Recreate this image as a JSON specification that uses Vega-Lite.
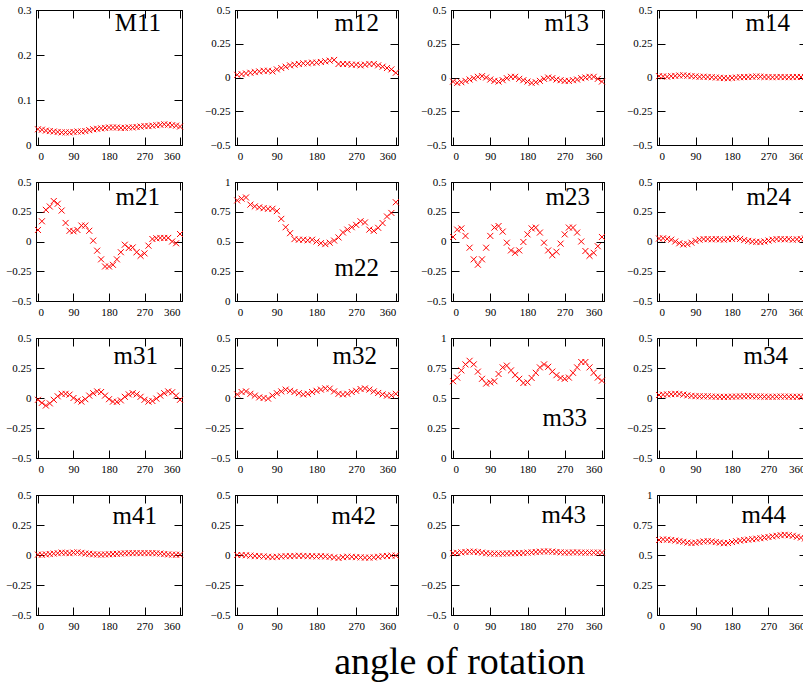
{
  "$schema": "https://vega.github.io/schema/vega-lite/v6.json",
  "background": "white",
  "padding": {"left": 5, "top": 3, "right": 0, "bottom": 0},
  "datasets": {
    "M11": [{"a":0,"v":0.035},{"a":10,"v":0.034},{"a":20,"v":0.032},{"a":30,"v":0.031},{"a":40,"v":0.030},{"a":50,"v":0.029},{"a":60,"v":0.028},{"a":70,"v":0.028},{"a":80,"v":0.028},{"a":90,"v":0.029},{"a":100,"v":0.030},{"a":110,"v":0.030},{"a":120,"v":0.031},{"a":130,"v":0.033},{"a":140,"v":0.035},{"a":150,"v":0.036},{"a":160,"v":0.037},{"a":170,"v":0.038},{"a":180,"v":0.039},{"a":190,"v":0.039},{"a":200,"v":0.039},{"a":210,"v":0.038},{"a":220,"v":0.038},{"a":230,"v":0.039},{"a":240,"v":0.039},{"a":250,"v":0.040},{"a":260,"v":0.041},{"a":270,"v":0.042},{"a":280,"v":0.042},{"a":290,"v":0.043},{"a":300,"v":0.044},{"a":310,"v":0.045},{"a":320,"v":0.046},{"a":330,"v":0.045},{"a":340,"v":0.044},{"a":350,"v":0.043},{"a":360,"v":0.041}],
    "m12": [{"a":0,"v":0.02},{"a":10,"v":0.025},{"a":20,"v":0.03},{"a":30,"v":0.035},{"a":40,"v":0.04},{"a":50,"v":0.045},{"a":60,"v":0.05},{"a":70,"v":0.05},{"a":80,"v":0.045},{"a":90,"v":0.06},{"a":100,"v":0.07},{"a":110,"v":0.08},{"a":120,"v":0.09},{"a":130,"v":0.095},{"a":140,"v":0.1},{"a":150,"v":0.105},{"a":160,"v":0.105},{"a":170,"v":0.11},{"a":180,"v":0.11},{"a":190,"v":0.115},{"a":200,"v":0.12},{"a":210,"v":0.125},{"a":220,"v":0.13},{"a":230,"v":0.1},{"a":240,"v":0.1},{"a":250,"v":0.1},{"a":260,"v":0.095},{"a":270,"v":0.095},{"a":280,"v":0.09},{"a":290,"v":0.095},{"a":300,"v":0.1},{"a":310,"v":0.1},{"a":320,"v":0.09},{"a":330,"v":0.08},{"a":340,"v":0.07},{"a":350,"v":0.06},{"a":360,"v":0.035}],
    "m13": [{"a":0,"v":-0.03},{"a":10,"v":-0.04},{"a":20,"v":-0.035},{"a":30,"v":-0.025},{"a":40,"v":-0.015},{"a":50,"v":-0.005},{"a":60,"v":0.005},{"a":70,"v":0.01},{"a":80,"v":0.0},{"a":90,"v":-0.015},{"a":100,"v":-0.025},{"a":110,"v":-0.03},{"a":120,"v":-0.02},{"a":130,"v":-0.005},{"a":140,"v":0.005},{"a":150,"v":0.005},{"a":160,"v":-0.01},{"a":170,"v":-0.02},{"a":180,"v":-0.03},{"a":190,"v":-0.04},{"a":200,"v":-0.035},{"a":210,"v":-0.025},{"a":220,"v":-0.01},{"a":230,"v":0.0},{"a":240,"v":-0.005},{"a":250,"v":-0.015},{"a":260,"v":-0.02},{"a":270,"v":-0.025},{"a":280,"v":-0.025},{"a":290,"v":-0.02},{"a":300,"v":-0.015},{"a":310,"v":-0.005},{"a":320,"v":0.0},{"a":330,"v":0.005},{"a":340,"v":0.005},{"a":350,"v":-0.01},{"a":360,"v":-0.03}],
    "m14": [{"a":0,"v":0.01},{"a":10,"v":0.008},{"a":20,"v":0.006},{"a":30,"v":0.01},{"a":40,"v":0.012},{"a":50,"v":0.015},{"a":60,"v":0.016},{"a":70,"v":0.013},{"a":80,"v":0.01},{"a":90,"v":0.008},{"a":100,"v":0.005},{"a":110,"v":0.006},{"a":120,"v":0.004},{"a":130,"v":0.002},{"a":140,"v":0.0},{"a":150,"v":-0.002},{"a":160,"v":-0.004},{"a":170,"v":-0.006},{"a":180,"v":-0.003},{"a":190,"v":0.0},{"a":200,"v":0.002},{"a":210,"v":0.003},{"a":220,"v":0.004},{"a":230,"v":0.006},{"a":240,"v":0.008},{"a":250,"v":0.006},{"a":260,"v":0.004},{"a":270,"v":0.003},{"a":280,"v":0.002},{"a":290,"v":0.003},{"a":300,"v":0.004},{"a":310,"v":0.003},{"a":320,"v":0.002},{"a":330,"v":0.003},{"a":340,"v":0.004},{"a":350,"v":0.004},{"a":360,"v":0.003}],
    "m21": [{"a":0,"v":0.097},{"a":10,"v":0.17},{"a":20,"v":0.266},{"a":30,"v":0.294},{"a":40,"v":0.34},{"a":50,"v":0.317},{"a":60,"v":0.26},{"a":70,"v":0.156},{"a":80,"v":0.09},{"a":90,"v":0.086},{"a":100,"v":0.097},{"a":110,"v":0.134},{"a":120,"v":0.134},{"a":130,"v":0.09},{"a":140,"v":0.007},{"a":150,"v":-0.077},{"a":160,"v":-0.15},{"a":170,"v":-0.21},{"a":180,"v":-0.21},{"a":190,"v":-0.196},{"a":200,"v":-0.15},{"a":210,"v":-0.09},{"a":220,"v":-0.027},{"a":230,"v":-0.055},{"a":240,"v":-0.05},{"a":250,"v":-0.09},{"a":260,"v":-0.12},{"a":270,"v":-0.1},{"a":280,"v":-0.035},{"a":290,"v":0.021},{"a":300,"v":0.027},{"a":310,"v":0.03},{"a":320,"v":0.03},{"a":330,"v":0.03},{"a":340,"v":0.0},{"a":350,"v":-0.015},{"a":360,"v":0.063}],
    "m22": [{"a":0,"v":0.845},{"a":10,"v":0.86},{"a":20,"v":0.87},{"a":30,"v":0.81},{"a":40,"v":0.795},{"a":50,"v":0.787},{"a":60,"v":0.78},{"a":70,"v":0.775},{"a":80,"v":0.775},{"a":90,"v":0.755},{"a":100,"v":0.69},{"a":110,"v":0.62},{"a":120,"v":0.57},{"a":130,"v":0.52},{"a":140,"v":0.515},{"a":150,"v":0.515},{"a":160,"v":0.51},{"a":170,"v":0.515},{"a":180,"v":0.5},{"a":190,"v":0.486},{"a":200,"v":0.478},{"a":210,"v":0.49},{"a":220,"v":0.508},{"a":230,"v":0.534},{"a":240,"v":0.576},{"a":250,"v":0.6},{"a":260,"v":0.62},{"a":270,"v":0.64},{"a":280,"v":0.67},{"a":290,"v":0.66},{"a":300,"v":0.6},{"a":310,"v":0.59},{"a":320,"v":0.615},{"a":330,"v":0.655},{"a":340,"v":0.71},{"a":350,"v":0.74},{"a":360,"v":0.83}],
    "m23": [{"a":0,"v":0.038},{"a":10,"v":0.1},{"a":20,"v":0.11},{"a":30,"v":0.047},{"a":40,"v":-0.052},{"a":50,"v":-0.15},{"a":60,"v":-0.195},{"a":70,"v":-0.15},{"a":80,"v":-0.052},{"a":90,"v":0.047},{"a":100,"v":0.117},{"a":110,"v":0.13},{"a":120,"v":0.083},{"a":130,"v":-0.01},{"a":140,"v":-0.075},{"a":150,"v":-0.095},{"a":160,"v":-0.075},{"a":170,"v":-0.004},{"a":180,"v":0.06},{"a":190,"v":0.11},{"a":200,"v":0.117},{"a":210,"v":0.075},{"a":220,"v":-0.01},{"a":230,"v":-0.075},{"a":240,"v":-0.115},{"a":250,"v":-0.086},{"a":260,"v":-0.018},{"a":270,"v":0.06},{"a":280,"v":0.117},{"a":290,"v":0.117},{"a":300,"v":0.075},{"a":310,"v":0.0},{"a":320,"v":-0.08},{"a":330,"v":-0.12},{"a":340,"v":-0.095},{"a":350,"v":-0.04},{"a":360,"v":0.038}],
    "m24": [{"a":0,"v":0.025},{"a":10,"v":0.027},{"a":20,"v":0.022},{"a":30,"v":0.015},{"a":40,"v":0.0},{"a":50,"v":-0.015},{"a":60,"v":-0.025},{"a":70,"v":-0.022},{"a":80,"v":-0.01},{"a":90,"v":0.005},{"a":100,"v":0.015},{"a":110,"v":0.02},{"a":120,"v":0.02},{"a":130,"v":0.018},{"a":140,"v":0.02},{"a":150,"v":0.018},{"a":160,"v":0.015},{"a":170,"v":0.02},{"a":180,"v":0.022},{"a":190,"v":0.028},{"a":200,"v":0.022},{"a":210,"v":0.012},{"a":220,"v":0.005},{"a":230,"v":0.0},{"a":240,"v":-0.003},{"a":250,"v":-0.005},{"a":260,"v":0.0},{"a":270,"v":0.008},{"a":280,"v":0.015},{"a":290,"v":0.02},{"a":300,"v":0.02},{"a":310,"v":0.018},{"a":320,"v":0.02},{"a":330,"v":0.015},{"a":340,"v":0.018},{"a":350,"v":0.02},{"a":360,"v":0.025}],
    "m31": [{"a":0,"v":-0.015},{"a":10,"v":-0.04},{"a":20,"v":-0.063},{"a":30,"v":-0.045},{"a":40,"v":-0.015},{"a":50,"v":0.014},{"a":60,"v":0.035},{"a":70,"v":0.035},{"a":80,"v":0.028},{"a":90,"v":0.0},{"a":100,"v":-0.02},{"a":110,"v":-0.03},{"a":120,"v":-0.01},{"a":130,"v":0.02},{"a":140,"v":0.04},{"a":150,"v":0.055},{"a":160,"v":0.05},{"a":170,"v":0.02},{"a":180,"v":-0.01},{"a":190,"v":-0.03},{"a":200,"v":-0.032},{"a":210,"v":-0.02},{"a":220,"v":0.01},{"a":230,"v":0.03},{"a":240,"v":0.04},{"a":250,"v":0.03},{"a":260,"v":0.01},{"a":270,"v":-0.015},{"a":280,"v":-0.03},{"a":290,"v":-0.025},{"a":300,"v":-0.005},{"a":310,"v":0.02},{"a":320,"v":0.04},{"a":330,"v":0.055},{"a":340,"v":0.048},{"a":350,"v":0.02},{"a":360,"v":-0.015}],
    "m32": [{"a":0,"v":0.03},{"a":10,"v":0.05},{"a":20,"v":0.055},{"a":30,"v":0.035},{"a":40,"v":0.02},{"a":50,"v":0.005},{"a":60,"v":0.0},{"a":70,"v":-0.005},{"a":80,"v":0.02},{"a":90,"v":0.04},{"a":100,"v":0.055},{"a":110,"v":0.07},{"a":120,"v":0.06},{"a":130,"v":0.05},{"a":140,"v":0.04},{"a":150,"v":0.03},{"a":160,"v":0.035},{"a":170,"v":0.05},{"a":180,"v":0.06},{"a":190,"v":0.07},{"a":200,"v":0.08},{"a":210,"v":0.078},{"a":220,"v":0.055},{"a":230,"v":0.035},{"a":240,"v":0.03},{"a":250,"v":0.035},{"a":260,"v":0.05},{"a":270,"v":0.06},{"a":280,"v":0.075},{"a":290,"v":0.08},{"a":300,"v":0.07},{"a":310,"v":0.055},{"a":320,"v":0.042},{"a":330,"v":0.03},{"a":340,"v":0.02},{"a":350,"v":0.022},{"a":360,"v":0.035}],
    "m33": [{"a":0,"v":0.64},{"a":10,"v":0.67},{"a":20,"v":0.73},{"a":30,"v":0.78},{"a":40,"v":0.81},{"a":50,"v":0.78},{"a":60,"v":0.72},{"a":70,"v":0.66},{"a":80,"v":0.62},{"a":90,"v":0.63},{"a":100,"v":0.64},{"a":110,"v":0.7},{"a":120,"v":0.755},{"a":130,"v":0.77},{"a":140,"v":0.73},{"a":150,"v":0.69},{"a":160,"v":0.66},{"a":170,"v":0.625},{"a":180,"v":0.63},{"a":190,"v":0.667},{"a":200,"v":0.71},{"a":210,"v":0.755},{"a":220,"v":0.78},{"a":230,"v":0.76},{"a":240,"v":0.72},{"a":250,"v":0.69},{"a":260,"v":0.667},{"a":270,"v":0.66},{"a":280,"v":0.67},{"a":290,"v":0.71},{"a":300,"v":0.755},{"a":310,"v":0.8},{"a":320,"v":0.8},{"a":330,"v":0.755},{"a":340,"v":0.71},{"a":350,"v":0.67},{"a":360,"v":0.645}],
    "m34": [{"a":0,"v":0.025},{"a":10,"v":0.028},{"a":20,"v":0.03},{"a":30,"v":0.032},{"a":40,"v":0.035},{"a":50,"v":0.033},{"a":60,"v":0.028},{"a":70,"v":0.022},{"a":80,"v":0.018},{"a":90,"v":0.015},{"a":100,"v":0.014},{"a":110,"v":0.013},{"a":120,"v":0.014},{"a":130,"v":0.012},{"a":140,"v":0.011},{"a":150,"v":0.01},{"a":160,"v":0.009},{"a":170,"v":0.01},{"a":180,"v":0.011},{"a":190,"v":0.012},{"a":200,"v":0.013},{"a":210,"v":0.014},{"a":220,"v":0.015},{"a":230,"v":0.014},{"a":240,"v":0.013},{"a":250,"v":0.012},{"a":260,"v":0.011},{"a":270,"v":0.01},{"a":280,"v":0.01},{"a":290,"v":0.011},{"a":300,"v":0.012},{"a":310,"v":0.012},{"a":320,"v":0.011},{"a":330,"v":0.01},{"a":340,"v":0.01},{"a":350,"v":0.011},{"a":360,"v":0.012}],
    "m41": [{"a":0,"v":0.003},{"a":10,"v":0.002},{"a":20,"v":0.005},{"a":30,"v":0.008},{"a":40,"v":0.012},{"a":50,"v":0.015},{"a":60,"v":0.02},{"a":70,"v":0.018},{"a":80,"v":0.015},{"a":90,"v":0.02},{"a":100,"v":0.022},{"a":110,"v":0.018},{"a":120,"v":0.012},{"a":130,"v":0.01},{"a":140,"v":0.006},{"a":150,"v":0.004},{"a":160,"v":0.003},{"a":170,"v":0.005},{"a":180,"v":0.006},{"a":190,"v":0.008},{"a":200,"v":0.01},{"a":210,"v":0.012},{"a":220,"v":0.014},{"a":230,"v":0.015},{"a":240,"v":0.015},{"a":250,"v":0.016},{"a":260,"v":0.015},{"a":270,"v":0.016},{"a":280,"v":0.015},{"a":290,"v":0.016},{"a":300,"v":0.014},{"a":310,"v":0.012},{"a":320,"v":0.008},{"a":330,"v":0.005},{"a":340,"v":0.003},{"a":350,"v":0.002},{"a":360,"v":0.003}],
    "m42": [{"a":0,"v":0.0},{"a":10,"v":0.0},{"a":20,"v":-0.002},{"a":30,"v":-0.005},{"a":40,"v":-0.008},{"a":50,"v":-0.01},{"a":60,"v":-0.012},{"a":70,"v":-0.015},{"a":80,"v":-0.018},{"a":90,"v":-0.015},{"a":100,"v":-0.012},{"a":110,"v":-0.01},{"a":120,"v":-0.01},{"a":130,"v":-0.008},{"a":140,"v":-0.006},{"a":150,"v":-0.008},{"a":160,"v":-0.01},{"a":170,"v":-0.01},{"a":180,"v":-0.012},{"a":190,"v":-0.01},{"a":200,"v":-0.012},{"a":210,"v":-0.015},{"a":220,"v":-0.02},{"a":230,"v":-0.025},{"a":240,"v":-0.018},{"a":250,"v":-0.014},{"a":260,"v":-0.015},{"a":270,"v":-0.018},{"a":280,"v":-0.02},{"a":290,"v":-0.022},{"a":300,"v":-0.022},{"a":310,"v":-0.02},{"a":320,"v":-0.015},{"a":330,"v":-0.01},{"a":340,"v":-0.008},{"a":350,"v":-0.005},{"a":360,"v":-0.005}],
    "m43": [{"a":0,"v":0.015},{"a":10,"v":0.018},{"a":20,"v":0.022},{"a":30,"v":0.025},{"a":40,"v":0.028},{"a":50,"v":0.028},{"a":60,"v":0.025},{"a":70,"v":0.02},{"a":80,"v":0.015},{"a":90,"v":0.012},{"a":100,"v":0.012},{"a":110,"v":0.011},{"a":120,"v":0.012},{"a":130,"v":0.013},{"a":140,"v":0.014},{"a":150,"v":0.015},{"a":160,"v":0.015},{"a":170,"v":0.017},{"a":180,"v":0.02},{"a":190,"v":0.022},{"a":200,"v":0.025},{"a":210,"v":0.028},{"a":220,"v":0.03},{"a":230,"v":0.03},{"a":240,"v":0.028},{"a":250,"v":0.025},{"a":260,"v":0.022},{"a":270,"v":0.02},{"a":280,"v":0.02},{"a":290,"v":0.022},{"a":300,"v":0.022},{"a":310,"v":0.02},{"a":320,"v":0.02},{"a":330,"v":0.02},{"a":340,"v":0.02},{"a":350,"v":0.02},{"a":360,"v":0.02}],
    "m44": [{"a":0,"v":0.625},{"a":10,"v":0.63},{"a":20,"v":0.628},{"a":30,"v":0.625},{"a":40,"v":0.62},{"a":50,"v":0.615},{"a":60,"v":0.61},{"a":70,"v":0.603},{"a":80,"v":0.6},{"a":90,"v":0.602},{"a":100,"v":0.608},{"a":110,"v":0.613},{"a":120,"v":0.615},{"a":130,"v":0.613},{"a":140,"v":0.608},{"a":150,"v":0.603},{"a":160,"v":0.598},{"a":170,"v":0.6},{"a":180,"v":0.608},{"a":190,"v":0.615},{"a":200,"v":0.62},{"a":210,"v":0.625},{"a":220,"v":0.628},{"a":230,"v":0.632},{"a":240,"v":0.636},{"a":250,"v":0.64},{"a":260,"v":0.645},{"a":270,"v":0.65},{"a":280,"v":0.655},{"a":290,"v":0.66},{"a":300,"v":0.665},{"a":310,"v":0.668},{"a":320,"v":0.665},{"a":330,"v":0.66},{"a":340,"v":0.652},{"a":350,"v":0.645},{"a":360,"v":0.638}]
  },
  "title": {"text": "angle of rotation", "orient": "bottom", "anchor": "middle", "frame": "bounds", "fontSize": 38, "baseline": "top", "offset": 12, "dx": 52},
  "columns": 4,
  "align": "each",
  "bounds": "flush",
  "spacing": {"row": 37, "column": 53},
  "concat": [
    {"width": 146, "height": 135, "title": {"text": "M11", "offset": -32, "dx": -21}, "data": {"name": "M11"},
     "layer": [
      {"mark": {"type": "point", "shape": "M-1,-1L1,1M-1,1L1,-1", "color": "#ff0000", "filled": false, "size": 36, "strokeWidth": 1, "opacity": 1},
       "encoding": {"x": {"field": "a", "type": "quantitative", "title": null, "scale": {"domain": [-5, 365], "nice": false, "zero": false}, "axis": {"values": [0, 90, 180, 270, 360]}},
                    "y": {"field": "v", "type": "quantitative", "title": null, "scale": {"domain": [0, 0.3], "nice": false, "zero": false}, "axis": {"values": [0, 0.1, 0.2, 0.3]}}}},
      {"mark": {"type": "point", "opacity": 0},
       "encoding": {"x": {"field": "a", "type": "quantitative", "title": null, "scale": {"domain": [-5, 365], "nice": false, "zero": false}, "axis": {"orient": "top", "labels": false, "values": [0, 90, 180, 270, 360]}},
                    "y": {"field": "v", "type": "quantitative", "title": null, "scale": {"domain": [0, 0.3], "nice": false, "zero": false}, "axis": {"orient": "right", "labels": false, "values": [0, 0.1, 0.2, 0.3]}}}}
     ],
     "resolve": {"axis": {"x": "independent", "y": "independent"}}},
    {"width": 163, "height": 135, "title": {"text": "m12", "offset": -32, "dx": -19}, "data": {"name": "m12"},
     "layer": [
      {"mark": {"type": "point", "shape": "M-1,-1L1,1M-1,1L1,-1", "color": "#ff0000", "filled": false, "size": 36, "strokeWidth": 1, "opacity": 1},
       "encoding": {"x": {"field": "a", "type": "quantitative", "title": null, "scale": {"domain": [-5, 365], "nice": false, "zero": false}, "axis": {"values": [0, 90, 180, 270, 360]}},
                    "y": {"field": "v", "type": "quantitative", "title": null, "scale": {"domain": [-0.5, 0.5], "nice": false, "zero": false}, "axis": {"values": [-0.5, -0.25, 0, 0.25, 0.5]}}}},
      {"mark": {"type": "point", "opacity": 0},
       "encoding": {"x": {"field": "a", "type": "quantitative", "title": null, "scale": {"domain": [-5, 365], "nice": false, "zero": false}, "axis": {"orient": "top", "labels": false, "values": [0, 90, 180, 270, 360]}},
                    "y": {"field": "v", "type": "quantitative", "title": null, "scale": {"domain": [-0.5, 0.5], "nice": false, "zero": false}, "axis": {"orient": "right", "labels": false, "values": [-0.5, -0.25, 0, 0.25, 0.5]}}}}
     ],
     "resolve": {"axis": {"x": "independent", "y": "independent"}}},
    {"width": 153, "height": 135, "title": {"text": "m13", "offset": -32, "dx": -15}, "data": {"name": "m13"},
     "layer": [
      {"mark": {"type": "point", "shape": "M-1,-1L1,1M-1,1L1,-1", "color": "#ff0000", "filled": false, "size": 36, "strokeWidth": 1, "opacity": 1},
       "encoding": {"x": {"field": "a", "type": "quantitative", "title": null, "scale": {"domain": [-5, 365], "nice": false, "zero": false}, "axis": {"values": [0, 90, 180, 270, 360]}},
                    "y": {"field": "v", "type": "quantitative", "title": null, "scale": {"domain": [-0.5, 0.5], "nice": false, "zero": false}, "axis": {"values": [-0.5, -0.25, 0, 0.25, 0.5]}}}},
      {"mark": {"type": "point", "opacity": 0},
       "encoding": {"x": {"field": "a", "type": "quantitative", "title": null, "scale": {"domain": [-5, 365], "nice": false, "zero": false}, "axis": {"orient": "top", "labels": false, "values": [0, 90, 180, 270, 360]}},
                    "y": {"field": "v", "type": "quantitative", "title": null, "scale": {"domain": [-0.5, 0.5], "nice": false, "zero": false}, "axis": {"orient": "right", "labels": false, "values": [-0.5, -0.25, 0, 0.25, 0.5]}}}}
     ],
     "resolve": {"axis": {"x": "independent", "y": "independent"}}},
    {"width": 150, "height": 135, "title": {"text": "m14", "offset": -32, "dx": -17}, "data": {"name": "m14"},
     "layer": [
      {"mark": {"type": "point", "shape": "M-1,-1L1,1M-1,1L1,-1", "color": "#ff0000", "filled": false, "size": 36, "strokeWidth": 1, "opacity": 1},
       "encoding": {"x": {"field": "a", "type": "quantitative", "title": null, "scale": {"domain": [-5, 365], "nice": false, "zero": false}, "axis": {"values": [0, 90, 180, 270, 360]}},
                    "y": {"field": "v", "type": "quantitative", "title": null, "scale": {"domain": [-0.5, 0.5], "nice": false, "zero": false}, "axis": {"values": [-0.5, -0.25, 0, 0.25, 0.5]}}}},
      {"mark": {"type": "point", "opacity": 0},
       "encoding": {"x": {"field": "a", "type": "quantitative", "title": null, "scale": {"domain": [-5, 365], "nice": false, "zero": false}, "axis": {"orient": "top", "labels": false, "values": [0, 90, 180, 270, 360]}},
                    "y": {"field": "v", "type": "quantitative", "title": null, "scale": {"domain": [-0.5, 0.5], "nice": false, "zero": false}, "axis": {"orient": "right", "labels": false, "values": [-0.5, -0.25, 0, 0.25, 0.5]}}}}
     ],
     "resolve": {"axis": {"x": "independent", "y": "independent"}}},
    {"width": 146, "height": 119, "title": {"text": "m21", "offset": -34, "dx": -22}, "data": {"name": "m21"},
     "layer": [
      {"mark": {"type": "point", "shape": "M-1,-1L1,1M-1,1L1,-1", "color": "#ff0000", "filled": false, "size": 36, "strokeWidth": 1, "opacity": 1},
       "encoding": {"x": {"field": "a", "type": "quantitative", "title": null, "scale": {"domain": [-5, 365], "nice": false, "zero": false}, "axis": {"values": [0, 90, 180, 270, 360]}},
                    "y": {"field": "v", "type": "quantitative", "title": null, "scale": {"domain": [-0.5, 0.5], "nice": false, "zero": false}, "axis": {"values": [-0.5, -0.25, 0, 0.25, 0.5]}}}},
      {"mark": {"type": "point", "opacity": 0},
       "encoding": {"x": {"field": "a", "type": "quantitative", "title": null, "scale": {"domain": [-5, 365], "nice": false, "zero": false}, "axis": {"orient": "top", "labels": false, "values": [0, 90, 180, 270, 360]}},
                    "y": {"field": "v", "type": "quantitative", "title": null, "scale": {"domain": [-0.5, 0.5], "nice": false, "zero": false}, "axis": {"orient": "right", "labels": false, "values": [-0.5, -0.25, 0, 0.25, 0.5]}}}}
     ],
     "resolve": {"axis": {"x": "independent", "y": "independent"}}},
    {"width": 163, "height": 119, "title": {"text": "m22", "offset": -105, "dx": -19}, "data": {"name": "m22"},
     "layer": [
      {"mark": {"type": "point", "shape": "M-1,-1L1,1M-1,1L1,-1", "color": "#ff0000", "filled": false, "size": 36, "strokeWidth": 1, "opacity": 1},
       "encoding": {"x": {"field": "a", "type": "quantitative", "title": null, "scale": {"domain": [-5, 365], "nice": false, "zero": false}, "axis": {"values": [0, 90, 180, 270, 360]}},
                    "y": {"field": "v", "type": "quantitative", "title": null, "scale": {"domain": [0, 1], "nice": false, "zero": false}, "axis": {"values": [0, 0.25, 0.5, 0.75, 1]}}}},
      {"mark": {"type": "point", "opacity": 0},
       "encoding": {"x": {"field": "a", "type": "quantitative", "title": null, "scale": {"domain": [-5, 365], "nice": false, "zero": false}, "axis": {"orient": "top", "labels": false, "values": [0, 90, 180, 270, 360]}},
                    "y": {"field": "v", "type": "quantitative", "title": null, "scale": {"domain": [0, 1], "nice": false, "zero": false}, "axis": {"orient": "right", "labels": false, "values": [0, 0.25, 0.5, 0.75, 1]}}}}
     ],
     "resolve": {"axis": {"x": "independent", "y": "independent"}}},
    {"width": 153, "height": 119, "title": {"text": "m23", "offset": -34, "dx": -14}, "data": {"name": "m23"},
     "layer": [
      {"mark": {"type": "point", "shape": "M-1,-1L1,1M-1,1L1,-1", "color": "#ff0000", "filled": false, "size": 36, "strokeWidth": 1, "opacity": 1},
       "encoding": {"x": {"field": "a", "type": "quantitative", "title": null, "scale": {"domain": [-5, 365], "nice": false, "zero": false}, "axis": {"values": [0, 90, 180, 270, 360]}},
                    "y": {"field": "v", "type": "quantitative", "title": null, "scale": {"domain": [-0.5, 0.5], "nice": false, "zero": false}, "axis": {"values": [-0.5, -0.25, 0, 0.25, 0.5]}}}},
      {"mark": {"type": "point", "opacity": 0},
       "encoding": {"x": {"field": "a", "type": "quantitative", "title": null, "scale": {"domain": [-5, 365], "nice": false, "zero": false}, "axis": {"orient": "top", "labels": false, "values": [0, 90, 180, 270, 360]}},
                    "y": {"field": "v", "type": "quantitative", "title": null, "scale": {"domain": [-0.5, 0.5], "nice": false, "zero": false}, "axis": {"orient": "right", "labels": false, "values": [-0.5, -0.25, 0, 0.25, 0.5]}}}}
     ],
     "resolve": {"axis": {"x": "independent", "y": "independent"}}},
    {"width": 150, "height": 119, "title": {"text": "m24", "offset": -34, "dx": -16}, "data": {"name": "m24"},
     "layer": [
      {"mark": {"type": "point", "shape": "M-1,-1L1,1M-1,1L1,-1", "color": "#ff0000", "filled": false, "size": 36, "strokeWidth": 1, "opacity": 1},
       "encoding": {"x": {"field": "a", "type": "quantitative", "title": null, "scale": {"domain": [-5, 365], "nice": false, "zero": false}, "axis": {"values": [0, 90, 180, 270, 360]}},
                    "y": {"field": "v", "type": "quantitative", "title": null, "scale": {"domain": [-0.5, 0.5], "nice": false, "zero": false}, "axis": {"values": [-0.5, -0.25, 0, 0.25, 0.5]}}}},
      {"mark": {"type": "point", "opacity": 0},
       "encoding": {"x": {"field": "a", "type": "quantitative", "title": null, "scale": {"domain": [-5, 365], "nice": false, "zero": false}, "axis": {"orient": "top", "labels": false, "values": [0, 90, 180, 270, 360]}},
                    "y": {"field": "v", "type": "quantitative", "title": null, "scale": {"domain": [-0.5, 0.5], "nice": false, "zero": false}, "axis": {"orient": "right", "labels": false, "values": [-0.5, -0.25, 0, 0.25, 0.5]}}}}
     ],
     "resolve": {"axis": {"x": "independent", "y": "independent"}}},
    {"width": 146, "height": 120, "title": {"text": "m31", "offset": -37, "dx": -24}, "data": {"name": "m31"},
     "layer": [
      {"mark": {"type": "point", "shape": "M-1,-1L1,1M-1,1L1,-1", "color": "#ff0000", "filled": false, "size": 36, "strokeWidth": 1, "opacity": 1},
       "encoding": {"x": {"field": "a", "type": "quantitative", "title": null, "scale": {"domain": [-5, 365], "nice": false, "zero": false}, "axis": {"values": [0, 90, 180, 270, 360]}},
                    "y": {"field": "v", "type": "quantitative", "title": null, "scale": {"domain": [-0.5, 0.5], "nice": false, "zero": false}, "axis": {"values": [-0.5, -0.25, 0, 0.25, 0.5]}}}},
      {"mark": {"type": "point", "opacity": 0},
       "encoding": {"x": {"field": "a", "type": "quantitative", "title": null, "scale": {"domain": [-5, 365], "nice": false, "zero": false}, "axis": {"orient": "top", "labels": false, "values": [0, 90, 180, 270, 360]}},
                    "y": {"field": "v", "type": "quantitative", "title": null, "scale": {"domain": [-0.5, 0.5], "nice": false, "zero": false}, "axis": {"orient": "right", "labels": false, "values": [-0.5, -0.25, 0, 0.25, 0.5]}}}}
     ],
     "resolve": {"axis": {"x": "independent", "y": "independent"}}},
    {"width": 163, "height": 120, "title": {"text": "m32", "offset": -37, "dx": -21}, "data": {"name": "m32"},
     "layer": [
      {"mark": {"type": "point", "shape": "M-1,-1L1,1M-1,1L1,-1", "color": "#ff0000", "filled": false, "size": 36, "strokeWidth": 1, "opacity": 1},
       "encoding": {"x": {"field": "a", "type": "quantitative", "title": null, "scale": {"domain": [-5, 365], "nice": false, "zero": false}, "axis": {"values": [0, 90, 180, 270, 360]}},
                    "y": {"field": "v", "type": "quantitative", "title": null, "scale": {"domain": [-0.5, 0.5], "nice": false, "zero": false}, "axis": {"values": [-0.5, -0.25, 0, 0.25, 0.5]}}}},
      {"mark": {"type": "point", "opacity": 0},
       "encoding": {"x": {"field": "a", "type": "quantitative", "title": null, "scale": {"domain": [-5, 365], "nice": false, "zero": false}, "axis": {"orient": "top", "labels": false, "values": [0, 90, 180, 270, 360]}},
                    "y": {"field": "v", "type": "quantitative", "title": null, "scale": {"domain": [-0.5, 0.5], "nice": false, "zero": false}, "axis": {"orient": "right", "labels": false, "values": [-0.5, -0.25, 0, 0.25, 0.5]}}}}
     ],
     "resolve": {"axis": {"x": "independent", "y": "independent"}}},
    {"width": 153, "height": 120, "title": {"text": "m33", "offset": -99, "dx": -17}, "data": {"name": "m33"},
     "layer": [
      {"mark": {"type": "point", "shape": "M-1,-1L1,1M-1,1L1,-1", "color": "#ff0000", "filled": false, "size": 36, "strokeWidth": 1, "opacity": 1},
       "encoding": {"x": {"field": "a", "type": "quantitative", "title": null, "scale": {"domain": [-5, 365], "nice": false, "zero": false}, "axis": {"values": [0, 90, 180, 270, 360]}},
                    "y": {"field": "v", "type": "quantitative", "title": null, "scale": {"domain": [0, 1], "nice": false, "zero": false}, "axis": {"values": [0, 0.25, 0.5, 0.75, 1]}}}},
      {"mark": {"type": "point", "opacity": 0},
       "encoding": {"x": {"field": "a", "type": "quantitative", "title": null, "scale": {"domain": [-5, 365], "nice": false, "zero": false}, "axis": {"orient": "top", "labels": false, "values": [0, 90, 180, 270, 360]}},
                    "y": {"field": "v", "type": "quantitative", "title": null, "scale": {"domain": [0, 1], "nice": false, "zero": false}, "axis": {"orient": "right", "labels": false, "values": [0, 0.25, 0.5, 0.75, 1]}}}}
     ],
     "resolve": {"axis": {"x": "independent", "y": "independent"}}},
    {"width": 150, "height": 120, "title": {"text": "m34", "offset": -37, "dx": -19}, "data": {"name": "m34"},
     "layer": [
      {"mark": {"type": "point", "shape": "M-1,-1L1,1M-1,1L1,-1", "color": "#ff0000", "filled": false, "size": 36, "strokeWidth": 1, "opacity": 1},
       "encoding": {"x": {"field": "a", "type": "quantitative", "title": null, "scale": {"domain": [-5, 365], "nice": false, "zero": false}, "axis": {"values": [0, 90, 180, 270, 360]}},
                    "y": {"field": "v", "type": "quantitative", "title": null, "scale": {"domain": [-0.5, 0.5], "nice": false, "zero": false}, "axis": {"values": [-0.5, -0.25, 0, 0.25, 0.5]}}}},
      {"mark": {"type": "point", "opacity": 0},
       "encoding": {"x": {"field": "a", "type": "quantitative", "title": null, "scale": {"domain": [-5, 365], "nice": false, "zero": false}, "axis": {"orient": "top", "labels": false, "values": [0, 90, 180, 270, 360]}},
                    "y": {"field": "v", "type": "quantitative", "title": null, "scale": {"domain": [-0.5, 0.5], "nice": false, "zero": false}, "axis": {"orient": "right", "labels": false, "values": [-0.5, -0.25, 0, 0.25, 0.5]}}}}
     ],
     "resolve": {"axis": {"x": "independent", "y": "independent"}}},
    {"width": 146, "height": 120, "title": {"text": "m41", "offset": -40, "dx": -25}, "data": {"name": "m41"},
     "layer": [
      {"mark": {"type": "point", "shape": "M-1,-1L1,1M-1,1L1,-1", "color": "#ff0000", "filled": false, "size": 36, "strokeWidth": 1, "opacity": 1},
       "encoding": {"x": {"field": "a", "type": "quantitative", "title": null, "scale": {"domain": [-5, 365], "nice": false, "zero": false}, "axis": {"values": [0, 90, 180, 270, 360]}},
                    "y": {"field": "v", "type": "quantitative", "title": null, "scale": {"domain": [-0.5, 0.5], "nice": false, "zero": false}, "axis": {"values": [-0.5, -0.25, 0, 0.25, 0.5]}}}},
      {"mark": {"type": "point", "opacity": 0},
       "encoding": {"x": {"field": "a", "type": "quantitative", "title": null, "scale": {"domain": [-5, 365], "nice": false, "zero": false}, "axis": {"orient": "top", "labels": false, "values": [0, 90, 180, 270, 360]}},
                    "y": {"field": "v", "type": "quantitative", "title": null, "scale": {"domain": [-0.5, 0.5], "nice": false, "zero": false}, "axis": {"orient": "right", "labels": false, "values": [-0.5, -0.25, 0, 0.25, 0.5]}}}}
     ],
     "resolve": {"axis": {"x": "independent", "y": "independent"}}},
    {"width": 163, "height": 120, "title": {"text": "m42", "offset": -40, "dx": -22}, "data": {"name": "m42"},
     "layer": [
      {"mark": {"type": "point", "shape": "M-1,-1L1,1M-1,1L1,-1", "color": "#ff0000", "filled": false, "size": 36, "strokeWidth": 1, "opacity": 1},
       "encoding": {"x": {"field": "a", "type": "quantitative", "title": null, "scale": {"domain": [-5, 365], "nice": false, "zero": false}, "axis": {"values": [0, 90, 180, 270, 360]}},
                    "y": {"field": "v", "type": "quantitative", "title": null, "scale": {"domain": [-0.5, 0.5], "nice": false, "zero": false}, "axis": {"values": [-0.5, -0.25, 0, 0.25, 0.5]}}}},
      {"mark": {"type": "point", "opacity": 0},
       "encoding": {"x": {"field": "a", "type": "quantitative", "title": null, "scale": {"domain": [-5, 365], "nice": false, "zero": false}, "axis": {"orient": "top", "labels": false, "values": [0, 90, 180, 270, 360]}},
                    "y": {"field": "v", "type": "quantitative", "title": null, "scale": {"domain": [-0.5, 0.5], "nice": false, "zero": false}, "axis": {"orient": "right", "labels": false, "values": [-0.5, -0.25, 0, 0.25, 0.5]}}}}
     ],
     "resolve": {"axis": {"x": "independent", "y": "independent"}}},
    {"width": 153, "height": 120, "title": {"text": "m43", "offset": -39, "dx": -18}, "data": {"name": "m43"},
     "layer": [
      {"mark": {"type": "point", "shape": "M-1,-1L1,1M-1,1L1,-1", "color": "#ff0000", "filled": false, "size": 36, "strokeWidth": 1, "opacity": 1},
       "encoding": {"x": {"field": "a", "type": "quantitative", "title": null, "scale": {"domain": [-5, 365], "nice": false, "zero": false}, "axis": {"values": [0, 90, 180, 270, 360]}},
                    "y": {"field": "v", "type": "quantitative", "title": null, "scale": {"domain": [-0.5, 0.5], "nice": false, "zero": false}, "axis": {"values": [-0.5, -0.25, 0, 0.25, 0.5]}}}},
      {"mark": {"type": "point", "opacity": 0},
       "encoding": {"x": {"field": "a", "type": "quantitative", "title": null, "scale": {"domain": [-5, 365], "nice": false, "zero": false}, "axis": {"orient": "top", "labels": false, "values": [0, 90, 180, 270, 360]}},
                    "y": {"field": "v", "type": "quantitative", "title": null, "scale": {"domain": [-0.5, 0.5], "nice": false, "zero": false}, "axis": {"orient": "right", "labels": false, "values": [-0.5, -0.25, 0, 0.25, 0.5]}}}}
     ],
     "resolve": {"axis": {"x": "independent", "y": "independent"}}},
    {"width": 150, "height": 120, "title": {"text": "m44", "offset": -39, "dx": -21}, "data": {"name": "m44"},
     "layer": [
      {"mark": {"type": "point", "shape": "M-1,-1L1,1M-1,1L1,-1", "color": "#ff0000", "filled": false, "size": 36, "strokeWidth": 1, "opacity": 1},
       "encoding": {"x": {"field": "a", "type": "quantitative", "title": null, "scale": {"domain": [-5, 365], "nice": false, "zero": false}, "axis": {"values": [0, 90, 180, 270, 360]}},
                    "y": {"field": "v", "type": "quantitative", "title": null, "scale": {"domain": [0, 1], "nice": false, "zero": false}, "axis": {"values": [0, 0.25, 0.5, 0.75, 1]}}}},
      {"mark": {"type": "point", "opacity": 0},
       "encoding": {"x": {"field": "a", "type": "quantitative", "title": null, "scale": {"domain": [-5, 365], "nice": false, "zero": false}, "axis": {"orient": "top", "labels": false, "values": [0, 90, 180, 270, 360]}},
                    "y": {"field": "v", "type": "quantitative", "title": null, "scale": {"domain": [0, 1], "nice": false, "zero": false}, "axis": {"orient": "right", "labels": false, "values": [0, 0.25, 0.5, 0.75, 1]}}}}
     ],
     "resolve": {"axis": {"x": "independent", "y": "independent"}}}
  ],
  "config": {
    "view": {"stroke": "black", "strokeWidth": 1},
    "axis": {"tickSize": -8, "labelPadding": 13, "domainColor": "black", "domainWidth": 1, "tickColor": "black", "tickWidth": 1, "labelFont": "Liberation Serif", "labelFontSize": 11, "labelColor": "black", "grid": false, "labelExpr": "format(datum.value, '~g')", "minExtent": 0, "labelOverlap": false},
    "axisX": {"labelFlush": 5},
    "axisY": {"labelFlush": false},
    "title": {"font": "Liberation Serif", "fontSize": 25, "fontWeight": "normal", "color": "black", "anchor": "end", "frame": "group", "baseline": "alphabetic"}
  }
}
